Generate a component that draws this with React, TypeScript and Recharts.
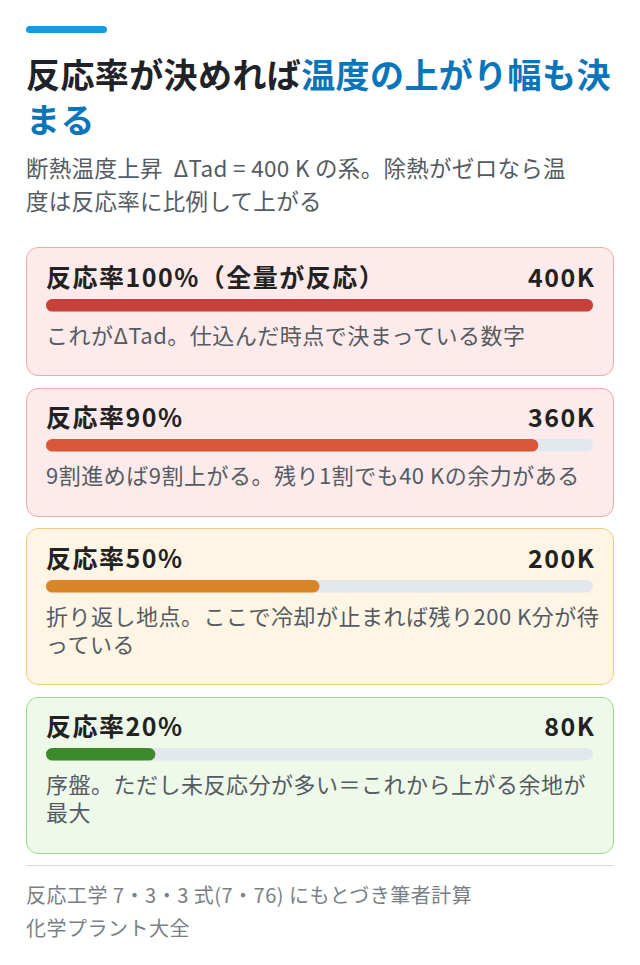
import { BarChart, Bar, XAxis, YAxis } from "recharts";

// 反応率ごとの温度上昇（ΔTad = 400 K）
const labels = ["反応率100%（全量が反応）", "反応率90%", "反応率50%", "反応率20%"];
const rates = [100, 90, 50, 20];
const temps = [400, 360, 200, 80];
const notes = [
  "これがΔTad。仕込んだ時点で決まっている数字",
  "9割進めば9割上がる。残り1割でも40 Kの余力がある",
  "折り返し地点。ここで冷却が止まれば残り200 K分が待っている",
  "序盤。ただし未反応分が多い＝これから上がる余地が最大",
];

const THEMES = [
  { bg: "#fdeaea", border: "#f2aaa8", bar: "#c8403a" },
  { bg: "#fdeaea", border: "#f2aaa8", bar: "#d9563a" },
  { bg: "#fff5e4", border: "#f4c882", bar: "#d98626" },
  { bg: "#eef9ea", border: "#9fd68d", bar: "#3d8a2d" },
];
const TRACK = "#e3e8ef";
const FONT = '"Noto Sans CJK JP", "Noto Sans", sans-serif';

const RateBar = ({ rate, color }: { rate: number; color: string }) => {
  const data = [{ name: "rate", value: rate }];
  return (
    <BarChart
      width={547}
      height={14}
      data={data}
      layout="vertical"
      margin={{ top: 0, right: 0, bottom: 0, left: 0 }}
    >
      <XAxis type="number" domain={[0, 100]} hide />
      <YAxis type="category" dataKey="name" hide />
      <Bar
        dataKey="value"
        fill={color}
        barSize={14}
        radius={7}
        background={{ fill: TRACK, radius: 7 }}
        isAnimationActive={false}
      />
    </BarChart>
  );
};

export default function App() {
  return (
    <div
      style={{
        position: "absolute",
        left: 0,
        top: 0,
        width: 640,
        height: 965,
        background: "#fff",
        fontFamily: FONT,
        boxSizing: "border-box",
        paddingLeft: 26,
        paddingTop: 26,
      }}
    >
      <div style={{ width: 588 }}>
        <div style={{ width: 81, height: 7, borderRadius: 4, background: "#119de6" }} />
        <div
          style={{
            marginTop: 17.5,
            fontSize: 34,
            lineHeight: "45px",
            fontWeight: 700,
            letterSpacing: 0.4,
            color: "#1f2328",
          }}
        >
          <span>反応率が決めれば</span>
          <span style={{ color: "#0b75b9" }}>温度の上がり幅も決</span>
          <br />
          <span style={{ color: "#0b75b9" }}>まる</span>
        </div>
        <div
          style={{
            marginTop: 10,
            fontSize: 22.5,
            lineHeight: "33px",
            letterSpacing: 0.3,
            color: "#555b62",
          }}
        >
          断熱温度上昇 &nbsp;ΔTad = 400 K の系。除熱がゼロなら温
          <br />
          度は反応率に比例して上がる
        </div>

        <div style={{ marginTop: 30.5 }}>
          {labels.map((label, i) => (
            <div
              key={label}
              style={{
                boxSizing: "border-box",
                width: 588,
                marginBottom: 11.5,
                background: THEMES[i].bg,
                border: `1.5px solid ${THEMES[i].border}`,
                borderRadius: 12,
                padding: "13.5px 19px 27.5px 19px",
              }}
            >
              <div
                style={{
                  display: "flex",
                  justifyContent: "space-between",
                  fontSize: 25,
                  lineHeight: "28px",
                  fontWeight: 700,
                  letterSpacing: 1.5,
                  color: "#222",
                }}
              >
                <span>{label}</span>
                <span style={{ marginRight: -1.5 }}>{temps[i]}K</span>
              </div>
              <div style={{ marginTop: 8, height: 14 }}>
                <RateBar rate={rates[i]} color={THEMES[i].bar} />
              </div>
              <div
                style={{
                  marginTop: 8,
                  marginRight: -8,
                  fontSize: 22,
                  lineHeight: "28px",
                  letterSpacing: 0.5,
                  color: "#555b62",
                }}
              >
                {notes[i]}
              </div>
            </div>
          ))}
        </div>

        <div style={{ marginTop: 2, height: 1, background: "#d6dce2" }} />
        <div
          style={{
            marginTop: 11.5,
            fontSize: 20,
            lineHeight: "33px",
            letterSpacing: 0.5,
            color: "#7a7f86",
          }}
        >
          反応工学 7・3・3 式(7・76) にもとづき筆者計算
          <br />
          化学プラント大全
        </div>
      </div>
    </div>
  );
}
